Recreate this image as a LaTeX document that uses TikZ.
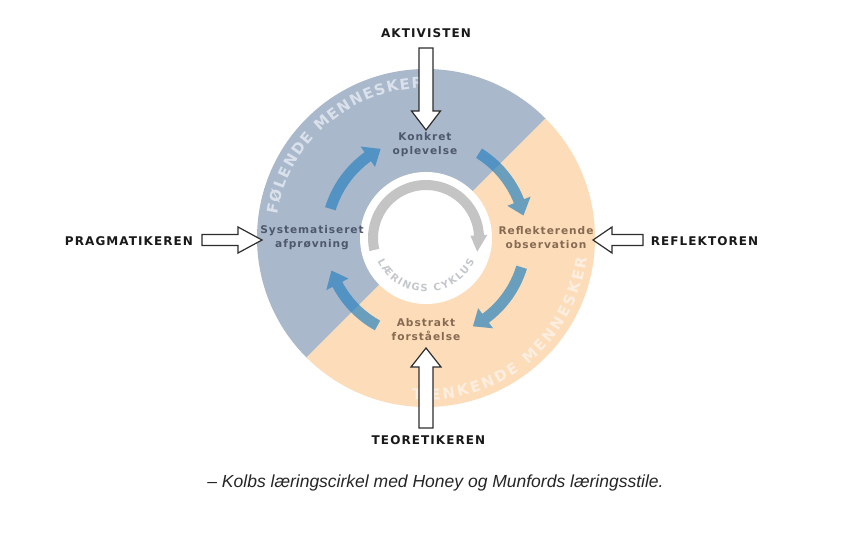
\documentclass[tikz,border=0pt]{standalone}
\usepackage{fontspec}
\setmainfont{DejaVu Sans}
\newfontfamily\lblfont[LetterSpace=9]{DejaVu Sans}
\newfontfamily\inlblfont[LetterSpace=9]{DejaVu Sans}
\newfontfamily\capfont{Liberation Sans}
\usetikzlibrary{decorations.text}
\definecolor{bluereg}{RGB}{170,184,204}
\definecolor{orangereg}{RGB}{253,221,185}
\definecolor{bluetxt}{RGB}{78,88,108}
\definecolor{browntxt}{RGB}{135,106,82}
\definecolor{cyclearrow}{RGB}{45,132,192}
\definecolor{grayarc}{RGB}{196,196,196}
\definecolor{graytxt}{RGB}{196,200,205}
\definecolor{feeltxt}{RGB}{218,225,235}
\definecolor{thinktxt}{RGB}{252,238,224}
\definecolor{outline}{RGB}{45,45,45}
\newcommand\blkarrow[6]{% tip, direction, length, shaft half, head half, head length
  \draw[blockarr, shift={(#1)}, rotate=#2] (0,0) -- (-#6,#5) -- (-#6,#4) -- (-#3,#4)
    -- (-#3,-#4) -- (-#6,-#4) -- (-#6,-#5) -- cycle;}
\newcommand\cyclearrow[7]{% start angle, head base angle, tip angle, radius, shaft half, head half, style
  \fill[#7] (#1:#4+#5) arc[start angle=#1, end angle=#2, radius=#4+#5]
    -- (#2:#4+#6) -- (#3:#4) -- (#2:#4-#6) -- (#2:#4-#5)
    arc[start angle=#2, end angle=#1, radius=#4-#5] -- cycle;}
\tikzset{
  inlab/.style={font=\inlblfont\bfseries\fontsize{10.6}{14}\selectfont, align=center, inner sep=0pt},
  outlab/.style={font=\lblfont\bfseries\fontsize{12}{14}\selectfont, text=black!90, inner sep=0pt},
  blockarr/.style={draw=outline, fill=white, line width=1.2pt, line join=miter},
  bluearrow/.style={fill=cyclearrow, fill opacity=0.7},
  grayarrow/.style={fill=grayarc},
}
\begin{document}
\begin{tikzpicture}[x=1pt,y=1pt]
\useasboundingbox (0,0) rectangle (851,-538);
\fill[white] (0,0) rectangle (851,-538);
\coordinate (C) at (426,-238);
\begin{scope}[shift={(C)}]
  % halves
  \fill[bluereg] (45:169) arc[start angle=45, end angle=225, radius=169] -- cycle;
  \fill[orangereg] (225:169) arc[start angle=225, end angle=405, radius=169] -- cycle;
  % inner white disc
  \fill[white] (0,0) circle[radius=66];
  % grey cycle arrow
  \cyclearrow{193}{3}{-15}{53}{5}{8.5}{grayarrow}
  % curved texts
  \path[decorate, decoration={text along path, text align={fit to path},
    text={|\bfseries\fontsize{10}{11}\selectfont\color{graytxt}|LÆRINGS CYKLUS}}]
    (206:54) arc[start angle=206, end angle=334, radius=54];
  \path[decorate, decoration={text along path, text align={fit to path},
    text={|\bfseries\fontsize{15}{17}\selectfont\color{feeltxt}|FØLENDE MENNESKER}}]
    (171:150) arc[start angle=171, end angle=91, radius=150];
  \path[decorate, decoration={text along path, text align={fit to path},
    text={|\bfseries\fontsize{15}{17}\selectfont\color{thinktxt}|TÆNKENDE MENNESKER}}]
    (265:162) arc[start angle=265, end angle=353, radius=162];
  % blue cycle arrows
  \cyclearrow{163}{125.6}{117}{100}{5.5}{12.5}{bluearrow}
  \cyclearrow{58}{21.6}{13}{100}{5.5}{12.5}{bluearrow}
  \cyclearrow{-17}{-53.4}{-62}{100}{5.5}{12.5}{bluearrow}
  \cyclearrow{241}{207.6}{199}{100}{5.5}{12.5}{bluearrow}
\end{scope}
% stage labels
\node[inlab, text=bluetxt] (konkret) at (425,-145) {Konkret\\oplevelse};
\node[inlab, text=browntxt] (reflek) at (546,-238) {Reflekterende\\observation};
\node[inlab, text=browntxt] (abstrakt) at (426,-330) {Abstrakt\\forståelse};
\node[inlab, text=bluetxt] (system) at (312,-238) {Systematiseret\\afprøvning};
% style labels
\node[outlab] (akt) at (426,-33) {AKTIVISTEN};
\node[outlab] (teo) at (428.5,-440) {TEORETIKEREN};
\node[outlab] (prag) at (129,-241) {PRAGMATIKEREN};
\node[outlab] (refl) at (704.5,-241) {REFLEKTOREN};
% block arrows
\coordinate (tipA) at (426,-130);
\coordinate (tipT) at (426,-348);
\coordinate (tipP) at (262,-240);
\coordinate (tipR) at (593,-240);
\blkarrow{tipA}{-90}{82}{7}{14.5}{19}
\blkarrow{tipT}{90}{80}{7}{15}{19}
\blkarrow{tipP}{0}{60}{5.5}{13}{24}
\blkarrow{tipR}{180}{50}{5.5}{13}{19}
% caption
\node[font=\capfont\itshape\fontsize{17.5}{20}\selectfont, text=black!85, anchor=base, inner sep=0pt] (cap) at (435.5,-487) {– Kolbs læringscirkel med Honey og Munfords læringsstile.};
\end{tikzpicture}
\end{document}
